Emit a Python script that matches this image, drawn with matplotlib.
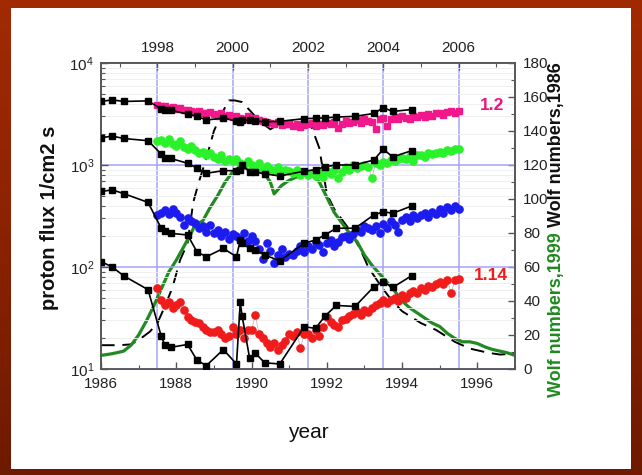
import numpy as np
import matplotlib
matplotlib.use('Agg')
import matplotlib.pyplot as plt
from matplotlib.patches import Rectangle
from matplotlib.colors import LinearSegmentedColormap
from matplotlib.ticker import MultipleLocator, LogLocator, NullFormatter

plt.rcParams['font.family'] = ['Liberation Sans', 'DejaVu Sans']

# ---------------- data ----------------
# 1986-cycle proton flux (bottom axis years), four channels
years_1986 = [1986.0, 1986.3, 1986.6, 1987.25, 1987.6, 1987.7, 1987.85, 1988.3, 1988.55,
              1988.8, 1989.25, 1989.6, 1989.7, 1989.75, 1989.95, 1990.1, 1990.35, 1990.75,
              1991.4, 1991.7, 1991.95, 1992.25, 1992.75, 1993.25, 1993.5, 1993.75, 1994.25]
flux86_a = [4200, 4350, 4200, 4250, 3550, 3450, 3450, 3150, 3000, 2760, 2880, 2700, 2650, 2750,
            2760, 2700, 2650, 2680, 2850, 2870, 2900, 2950, 3000, 3200, 3650, 3350, 3500]
flux86_b = [1850, 1920, 1820, 1730, 1280, 1170, 1160, 1040, 930, 830, 880, 880, 900, 1000,
            860, 850, 820, 780, 870, 900, 960, 1000, 1000, 1120, 1430, 1200, 1380]
flux86_c = [550, 570, 525, 430, 240, 225, 214, 206, 141, 126, 152, 126, 184, 170,
            152, 147, 131, 115, 171, 184, 206, 240, 240, 324, 348, 336, 396]
flux86_d = [113, 100, 82, 60, 21, 17, 16.3, 17.4, 12.2, 10.8, 15.5, 11.2, 45, 33,
            12.7, 14.3, 11.5, 11.2, 26, 25, 33, 42, 41, 64, 72, 63, 82]

# 1998-2006 proton flux (top axis years)
years_1998 = [round(1998.0 + 0.1 * i, 1) for i in range(81)]
flux98_pink = [3900, 3750, 3800, 3650, 3700, 3550, 3600, 3450, 3500, 3350,
               3300, 3400, 3250, 3200, 3300, 3150, 3050, 3200, 3000, 3100,
               2950, 3050, 2900, 2850, 3000, 2800, 2900, 2750, 2700, 2650,
               2600, 2500, 2650, 2450, 2550, 2500, 2400, 2550, 2350, 2450,
               2500, 2600, 2400, 2550, 2450, 2600, 2500, 2650, 2300, 2550,
               2700, 2600, 2650, 2750, 2600, 2800, 2700, 2650, 2250, 2850,
               2900, 2400, 2800, 2950, 2850, 3000, 2900, 2800, 3050, 2950,
               3100, 2950, 3150, 3050, 3200, 3250, 3100, 3300, 3400, 3200, 3350]
flux98_green = [1700, 1750, 1650, 1800, 1600, 1550, 1700, 1500, 1450, 1550,
                1400, 1300, 1350, 1250, 1300, 1200, 1150, 1250, 1100, 1150,
                1100, 1150, 1050, 1000, 1100, 1000, 950, 1050, 900, 980,
                920, 880, 950, 850, 900, 870, 830, 900, 800, 850,
                800, 830, 780, 850, 760, 880, 820, 900, 750, 860,
                950, 900, 1000, 930, 980, 1000, 950, 750, 1050, 1000,
                1080, 1050, 1120, 1100, 1150, 1180, 1150, 1220, 1100, 1250,
                1250, 1200, 1300, 1280, 1320, 1350, 1300, 1400, 1380, 1450, 1420]
flux98_blue = [320, 340, 360, 330, 370, 340, 310, 260, 300, 280,
               270, 240, 250, 220, 260, 215, 230, 200, 220, 190,
               210, 200, 190, 215, 180, 200, 180, 150, 120, 170,
               145, 110, 130, 150, 125, 135, 130, 145, 160, 140,
               160, 150, 175, 165, 140, 170, 185, 160, 175, 195,
               200, 190, 210, 230, 220, 250, 240, 230, 255, 215,
               265, 240, 280, 260, 220, 290, 310, 280, 320, 300,
               320, 340, 310, 350, 330, 370, 340, 390, 360, 400, 370]
flux98_red = [62, 48, 42, 45, 40, 42, 45, 38, 32, 30,
              29, 28, 26, 24, 23, 23, 24, 22, 20, 21,
              26, 22, 24, 20, 24, 24, 34, 22, 20, 18,
              16.5, 18, 15.5, 17, 19, 22, 21, 23, 16, 22,
              22, 20, 24, 21, 26, 32, 29, 27, 26, 30,
              31, 33, 35, 36, 34, 38, 36, 40, 42, 44,
              47, 44, 48, 50, 46, 53, 50, 55, 58, 56,
              62, 60, 65, 63, 68, 72, 68, 75, 55, 74, 76]

# Wolf numbers (bottom axis years)
wolf99_years = [1986.0, 1986.3, 1986.6, 1986.8, 1987.0, 1987.2, 1987.4, 1987.6, 1987.8, 1988.0,
                1988.2, 1988.4, 1988.5, 1988.7, 1988.9, 1989.1, 1989.3, 1989.5, 1989.7, 1989.9,
                1990.1, 1990.3, 1990.5, 1990.6, 1990.8, 1991.0, 1991.2, 1991.4, 1991.6, 1991.8,
                1992.0, 1992.2, 1992.4, 1992.6, 1992.8, 1993.0, 1993.2, 1993.4, 1993.6, 1993.8,
                1994.0, 1994.2, 1994.4, 1994.6, 1994.8, 1995.0, 1995.2, 1995.4, 1995.6, 1995.8,
                1996.0, 1996.2, 1996.4, 1996.6, 1996.8, 1997.0]
wolf99 = [8, 9, 10.5, 14, 20, 28, 37, 47, 57, 64,
          72, 80, 85, 87, 95, 102, 110, 116, 119, 117,
          117, 116, 110, 103, 108, 111, 113, 115, 114, 110,
          101, 92, 86, 80, 75, 67, 61, 56, 51, 46,
          40, 36, 33, 30, 27, 25, 21, 18, 16, 16,
          15, 13, 11.5, 10.5, 9.5, 8]
wolf86_years = [1986.0, 1986.5, 1986.8, 1987.0, 1987.3, 1987.5, 1987.7, 1987.9, 1988.1, 1988.3,
                1988.45, 1988.6, 1988.8, 1989.0, 1989.2, 1989.4, 1989.55, 1989.75, 1990.0, 1990.2,
                1990.5, 1990.8, 1991.1, 1991.4, 1991.6, 1991.8, 1992.0, 1992.2, 1992.4, 1992.6,
                1992.9, 1993.1, 1993.4, 1993.7, 1994.0, 1994.5, 1994.9, 1995.4, 1995.8, 1996.3,
                1996.6, 1997.0]
wolf86 = [14, 14, 14.5, 17, 22, 27, 37, 48, 64, 74,
          98, 110, 124, 140, 150, 158, 158, 157, 151, 146,
          141, 145, 146, 145, 142, 130, 103, 94, 88, 82,
          70, 60, 50, 41, 34, 27, 23, 16, 12, 9.5,
          8.5, 9]

bottom_ticks = [1986, 1988, 1990, 1992, 1994, 1996]
top_ticks = [1998, 2000, 2002, 2004, 2006]
year_shift = 10.5   # top-axis year minus bottom-axis year

# ---------------- figure ----------------
W, H = 642, 475
fig = plt.figure(figsize=(W / 100, H / 100), dpi=100)

bg = fig.add_axes([0, 0, 1, 1], zorder=-10)
cmap = LinearSegmentedColormap.from_list('bg', ['#a22a02', '#8a2200', '#6e1a00'])
bg.imshow(np.linspace(0, 1, 256)[:, None], aspect='auto', cmap=cmap, extent=[0, 1, 0, 1])
bg.set_axis_off()
fig.patches.append(Rectangle((11 / W, 6 / H), 620 / W, 461 / H, transform=fig.transFigure,
                             facecolor='white', edgecolor='none', zorder=-5))

ax = fig.add_axes([101 / W, 1 - 369 / H, 414 / W, 306 / H])
ax2 = ax.twinx()
ax.set_zorder(ax2.get_zorder() + 1)
ax.patch.set_visible(False)
ax2.patch.set_facecolor('white')

ax.set_yscale('log')
ax.set_ylim(10, 1e4)
ax.set_xlim(1986, 1997)
ax2.set_ylim(0, 180)

gridblue = '#a4a4f2'
for t in top_ticks:
    ax2.axvline(t - year_shift, color=gridblue, lw=1.1, zorder=0)
ax.yaxis.set_minor_locator(LogLocator(subs=np.arange(2, 10)))
ax.yaxis.set_minor_formatter(NullFormatter())
ax.grid(which='major', axis='y', color=gridblue, lw=1.1, zorder=0)
ax.grid(which='minor', axis='y', color='#ededed', lw=0.6, zorder=0)
ax.set_axisbelow(True)

# Wolf numbers on right axis
ax2.plot(wolf86_years, wolf86, color='black', lw=1.4, dashes=(7, 4), zorder=2)
ax2.plot(wolf99_years, wolf99, color='#228a22', lw=2.3, zorder=3)

# colored 1998-2006 series (top axis)
x98 = np.array(years_1998) - year_shift
for vals, col, mk, ms in [(flux98_pink, '#f0188a', 's', 4.6), (flux98_green, '#2af22a', 'o', 5.2),
                          (flux98_blue, '#1c1cf0', 'o', 5.2), (flux98_red, '#f01c1c', 'o', 5.2)]:
    ax.plot(x98, vals, color='#b0b0b0', lw=0.5, zorder=2)
    ax.plot(x98, vals, ls='none', marker=mk, ms=ms, mfc=col, mec=col, zorder=3)

# black 1986 series
for vals in [flux86_a, flux86_b, flux86_c, flux86_d]:
    ax.plot(years_1986, vals, color='black', lw=1.2, marker='s', ms=3.8, zorder=4)

# ticks and axes
spine_col = '#555555'
for a in (ax, ax2):
    for s in a.spines.values():
        s.set_color(spine_col)
        s.set_linewidth(1.2)
ax.xaxis.set_minor_locator(MultipleLocator(1))
ax.set_xticks(bottom_ticks)
ax.tick_params(which='both', direction='in', colors=spine_col, labelcolor='#222222',
               labelsize=11, top=False, right=False)
ax.tick_params(which='major', length=5, width=1.0)
ax.tick_params(which='minor', length=3, width=0.8)
ax.tick_params(axis='x', pad=6)
ax.tick_params(axis='y', pad=5)
ax2.yaxis.set_major_locator(MultipleLocator(20))
ax2.yaxis.set_minor_locator(MultipleLocator(10))
ax2.tick_params(which='both', direction='in', colors=spine_col, labelcolor='#222222',
                labelsize=11, pad=6)
ax2.tick_params(which='major', length=5, width=1.0)
ax2.tick_params(which='minor', length=3, width=0.8)

secax = ax.secondary_xaxis('top', functions=(lambda x: x + year_shift, lambda x: x - year_shift))
secax.set_xticks(top_ticks)
secax.xaxis.set_minor_locator(MultipleLocator(1))
secax.tick_params(which='both', direction='in', colors=spine_col, labelcolor='#222222',
                  labelsize=11, pad=6)
secax.tick_params(which='major', length=5, width=1.0)
secax.tick_params(which='minor', length=3, width=0.8)
secax.spines['top'].set_color(spine_col)
secax.spines['top'].set_linewidth(1.2)

# annotations
ax.text(1996.39, 3790, '1.2', color='#e8157f', fontsize=12.5, fontweight='bold',
        ha='center', va='center')
ax.text(1996.36, 83, '1.14', color='#ee1c1c', fontsize=12.5, fontweight='bold',
        ha='center', va='center')

# axis labels
fig.text(50 / W, 1 - 218 / H, 'proton flux 1/cm2 s', rotation=90, fontsize=14.5,
         fontweight='bold', ha='center', va='center', color='#111111')
fig.text(308 / W, 1 - 432 / H, 'year', fontsize=15, ha='center', va='center', color='#111111')
jy = 1 - 230 / H
fig.text(557 / W, jy - 2 / H, 'Wolf numbers,1999', rotation=90, rotation_mode='anchor',
         fontsize=13, fontweight='bold', color='#1f8a1f', ha='right', va='center')
fig.text(557 / W, jy + 3 / H, 'Wolf numbers,1986', rotation=90, rotation_mode='anchor',
         fontsize=13, fontweight='bold', color='#111111', ha='left', va='center')

fig.savefig('out.png', dpi=100)
